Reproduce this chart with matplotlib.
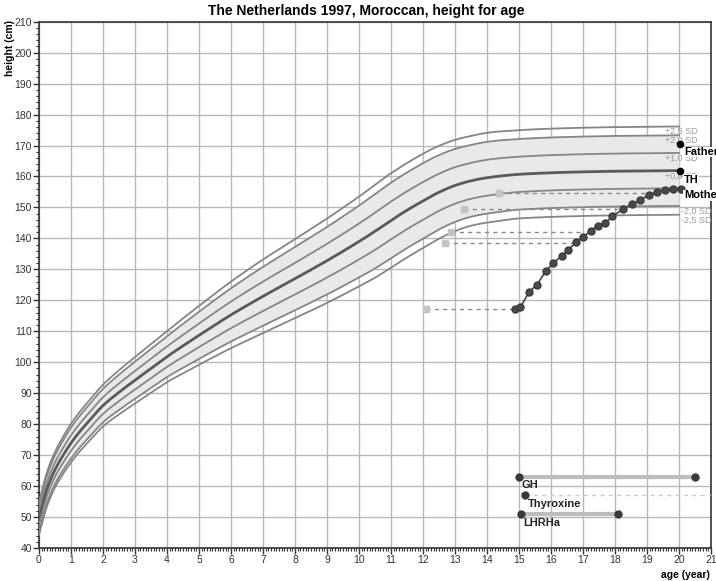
import numpy as np
import matplotlib
matplotlib.use("Agg")
import matplotlib.pyplot as plt
from matplotlib.ticker import MultipleLocator

plt.rcParams['font.family'] = ['Liberation Sans', 'DejaVu Sans']

# growth reference: median height and SD per age (years)
ref_age = [0, 0.25, 0.5, 0.75, 1, 1.25, 1.5, 2, 2.5, 3, 3.5, 4, 4.5, 5, 6, 7, 8, 9, 10,
           10.5, 11, 11.5, 12, 12.5, 13, 13.5, 14, 15, 16, 17, 18, 19, 20]
ref_median = [49.5, 59.0, 65.3, 69.9, 73.9, 77.3, 80.3, 86.0, 90.3, 94.2, 98.0, 101.8, 105.3,
              108.7, 115.3, 121.3, 127.0, 132.8, 139.0, 142.3, 145.8, 149.1, 152.1, 154.9,
              157.1, 158.6, 159.6, 160.7, 161.2, 161.5, 161.7, 161.8, 161.9]
ref_sd = [2.1, 2.2, 2.3, 2.4, 2.5, 2.55, 2.6, 2.7, 2.85, 3.0, 3.15, 3.3, 3.55, 3.8, 4.3, 4.75,
          5.1, 5.45, 5.8, 6.0, 6.1, 6.1, 6.1, 6.0, 5.9, 5.8, 5.8, 5.7, 5.7, 5.7, 5.7, 5.7, 5.7]
sd_levels = [2.5, 2.0, 1.0, 0.0, -1.0, -2.0, -2.5]
sd_labels = ['+2,5 SD', '+2,0 SD', '+1,0 SD', '+0,0 SD', '-1,0 SD', '-2,0 SD', '-2,5 SD']

# measured heights
meas_age = [14.88, 15.04, 15.32, 15.55, 15.85, 16.07, 16.33, 16.54, 16.78, 17.01, 17.24,
            17.46, 17.69, 17.92, 18.25, 18.54, 18.79, 19.06, 19.31, 19.55, 19.81, 20.07]
meas_height = [117.1, 117.7, 122.8, 124.9, 129.6, 132.0, 134.3, 136.3, 138.7, 140.5, 142.4,
               144.1, 144.9, 147.2, 149.4, 151.0, 152.4, 154.0, 155.0, 155.6, 155.9, 155.9]

# bone age readings: bone age, calendar age of the reading, height
bone_age = [12.08, 12.70, 12.89, 13.27, 14.39]
bone_cal_age = [14.88, 16.75, 17.02, 18.10, 19.03]
bone_height = [117.1, 138.6, 142.2, 149.4, 154.8]

parents_age = 20.03
father_height = 170.5
target_height = 161.9
mother_height = 156.0

# treatments (None = still running)
treat_names = ['GH', 'Thyroxine', 'LHRHa']
treat_start = [15.0, 15.19, 15.06]
treat_stop = [20.49, None, 18.08]
treat_level = [63.0, 57.1, 51.0]


def pchip(x, y, xs):
    # monotone cubic (Fritsch-Carlson) so the reference lines come out smooth
    x = np.asarray(x, float)
    y = np.asarray(y, float)
    h = np.diff(x)
    d = np.diff(y) / h
    m = np.zeros_like(y)
    for k in range(1, len(x) - 1):
        if d[k - 1] * d[k] > 0:
            w1 = 2 * h[k] + h[k - 1]
            w2 = h[k] + 2 * h[k - 1]
            m[k] = (w1 + w2) / (w1 / d[k - 1] + w2 / d[k])
    m[0] = d[0]
    m[-1] = d[-1]
    i = np.clip(np.searchsorted(x, xs) - 1, 0, len(h) - 1)
    t = (xs - x[i]) / h[i]
    h00 = 2 * t**3 - 3 * t**2 + 1
    h10 = t**3 - 2 * t**2 + t
    h01 = -2 * t**3 + 3 * t**2
    h11 = t**3 - t**2
    return h00 * y[i] + h10 * h[i] * m[i] + h01 * y[i + 1] + h11 * h[i] * m[i + 1]


fig = plt.figure(figsize=(7.16, 5.81), dpi=100)
ax = fig.add_axes([39 / 716, 1 - 548 / 581, 672 / 716, 526.3 / 581])

age = np.linspace(0, 20, 801)
med = pchip(ref_age, ref_median, age)
sd = pchip(ref_age, ref_sd, age)
curves = {z: med + z * sd for z in sd_levels}

ax.fill_between(age, curves[-2.0], curves[2.0], color='#e9e9e9', lw=0, zorder=1)
for z, lab in zip(sd_levels, sd_labels):
    if z == 0:
        ax.plot(age, curves[z], color='#5a5a5a', lw=2.0, zorder=3)
    else:
        ax.plot(age, curves[z], color='#858585', lw=1.3, zorder=3)
    x_lab = 19.55 if z >= 0 else 20.05
    ax.text(x_lab, curves[z][-1] - 1.7, lab, fontsize=6.5, color='#9a9a9a',
            va='center', ha='left', zorder=4)

# bone age: square at bone age, dashed line to calendar age
for ba, ca, h in zip(bone_age, bone_cal_age, bone_height):
    ax.plot([ba, ca], [h, h], color='#8a8a8a', lw=1.0, ls=(0, (3, 3)), zorder=4)
ax.plot(bone_age, bone_height, 's', color='#c4c4c4', ms=4.5, zorder=5)

ax.plot(meas_age, meas_height, '-o', color='#444444', lw=1.2, ms=5,
        markerfacecolor='#4a4a4a', markeredgecolor='#3a3a3a', zorder=6)

# parents and target height
ax.plot([parents_age], [father_height], 'o', color='black', ms=4.5, zorder=7)
ax.plot([parents_age], [target_height], 'o', color='black', ms=4.5, zorder=7)
bbox = dict(facecolor='white', edgecolor='none', pad=0.3)
ax.text(20.15, father_height - 2.6, 'Father', fontsize=8, fontweight='bold',
        va='center', ha='left', bbox=bbox, zorder=8, clip_on=False)
ax.text(20.15, target_height - 3.0, 'TH', fontsize=8, fontweight='bold',
        va='center', ha='left', bbox=bbox, zorder=8, clip_on=False)
ax.text(20.15, mother_height - 2.0, 'Mother', fontsize=8, fontweight='bold',
        va='center', ha='left', bbox=bbox, zorder=8, clip_on=False)

# treatment periods
for name, t0, t1, lvl in zip(treat_names, treat_start, treat_stop, treat_level):
    if t1 is None:
        ax.plot([t0, 21], [lvl, lvl], color='#cccccc', lw=1.0, ls=(0, (3, 3)), zorder=4)
        ax.plot([t0], [lvl], 'o', color='#3a3a3a', ms=5, zorder=6)
    else:
        ax.plot([t0, t1], [lvl, lvl], color='#bdbdbd', lw=3, zorder=4)
        ax.plot([t0, t1], [lvl, lvl], 'o', color='#3a3a3a', ms=5, zorder=6)
    ax.text(t0 + 0.08, lvl - 2.8, name, fontsize=8, fontweight='bold', color='#222222',
            va='center', ha='left', zorder=8)

ax.set_xlim(0, 21)
ax.set_ylim(40, 210)
ax.xaxis.set_major_locator(MultipleLocator(1))
ax.xaxis.set_minor_locator(MultipleLocator(1 / 12))
ax.yaxis.set_major_locator(MultipleLocator(10))
ax.yaxis.set_minor_locator(MultipleLocator(2))
ax.grid(True, which='major', color='#b8b8b8', lw=1.0, zorder=0)
ax.set_axisbelow(True)
ax.tick_params(which='major', direction='out', length=4, width=1, color='#333333',
               labelsize=7.5, labelcolor='#333333', pad=1)
ax.tick_params(which='minor', direction='out', length=2.5, width=0.8, color='#333333')
for s in ax.spines.values():
    s.set_color('#333333')
    s.set_linewidth(1.2)

fig.text(366 / 716, 1 - 11 / 581, 'The Netherlands 1997, Moroccan, height for age',
         fontsize=10, fontweight='bold', ha='center', va='center')
fig.text(10 / 716, 1 - 20 / 581, 'height (cm)', fontsize=7.5, fontweight='bold',
         rotation=90, ha='center', va='top')
fig.text(710 / 716, 1 - 575 / 581, 'age (year)', fontsize=7.5, fontweight='bold',
         ha='right', va='center')

fig.savefig('out.png', dpi=100)
